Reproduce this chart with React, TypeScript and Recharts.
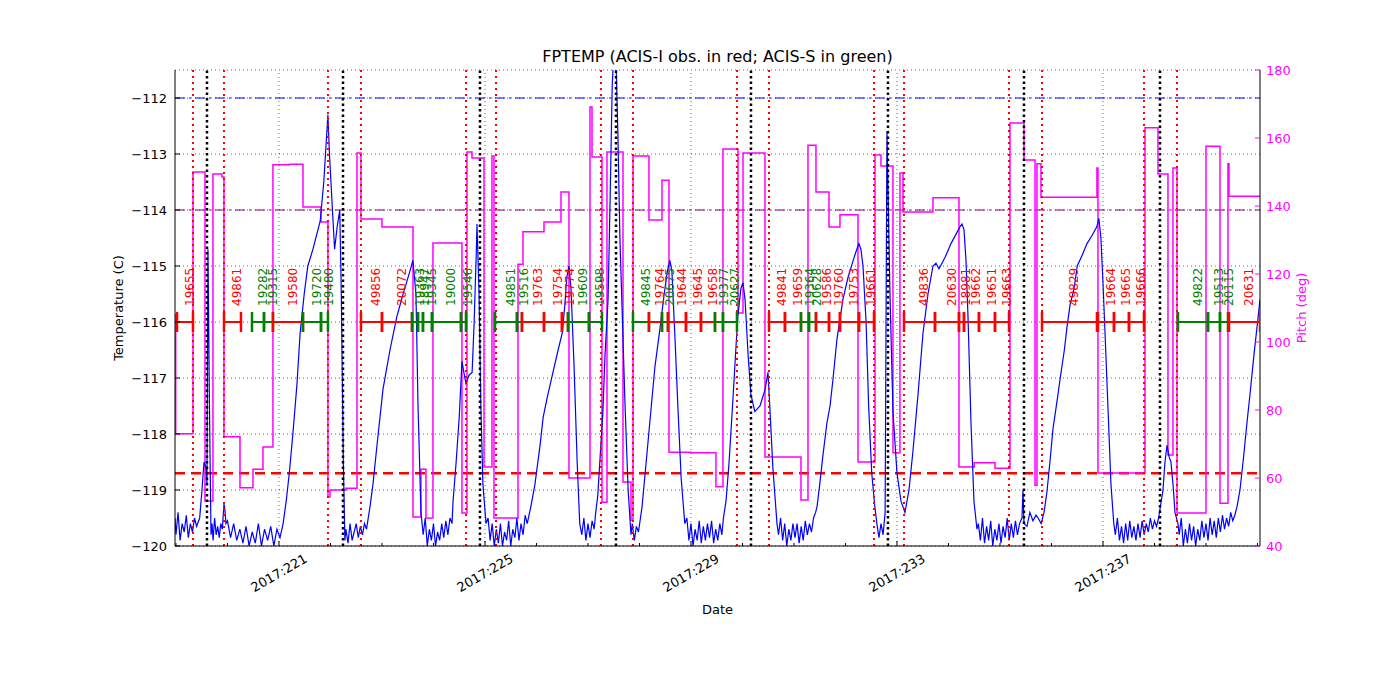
import React from "react";
import { LineChart, Line, XAxis, YAxis, CartesianGrid, ReferenceLine } from "recharts";

const FONT = "'DejaVu Sans', sans-serif";

// x is day-of-year 2017 (fractional)
const X_DOMAIN = [218.981, 240.049];
const DAY_TICKS = [219, 220, 221, 222, 223, 224, 225, 226, 227, 228, 229, 230, 231, 232, 233, 234, 235, 236, 237, 238, 239, 240];
const MAJOR_DAYS = [221, 225, 229, 233, 237];
const TEMP_TICKS = [-120, -119, -118, -117, -116, -115, -114, -113, -112];
const PITCH_TICKS = [40, 60, 80, 100, 120, 140, 160, 180];

const PLANNING_LIMIT = -112.0;
const YELLOW_LIMIT = -114.0;
const ACIS_I_LIMIT = -118.7;
const OBS_LEVEL = -116.0;

// perigee-ish markers
const RED_LINES = [219.33, 219.932, 221.951, 222.592, 224.631, 225.214, 227.252, 227.874, 229.893, 230.515, 232.553, 233.136, 235.175, 235.816, 237.796, 238.437];
const BLACK_LINES = [219.602, 222.243, 224.903, 227.544, 230.165, 232.825, 235.466, 238.107];

// FPTEMP [day, degC]
const TEMP: [number, number][] = [
  [218.981, -119.5], [219.0, -119.8], [219.04, -119.4], [219.08, -119.9], [219.12, -119.6], [219.16, -119.75], [219.2, -119.45], [219.24, -119.85], [219.28, -119.6], [219.32, -119.75], [219.36, -119.5], [219.4, -119.65], [219.46, -119.5],
  [219.505, -119.0], [219.544, -118.5], [219.583, -118.6], [219.602, -118.9], [219.621, -114.7], [219.65, -117.5], [219.68, -119.8],
  [219.7, -119.6], [219.72, -119.9], [219.75, -119.5], [219.78, -119.8], [219.81, -119.65], [219.84, -119.85], [219.87, -119.6], [219.9, -119.7], [219.932, -119.25], [219.95, -119.35], [219.97, -119.6],
  [220.0, -119.55], [220.06, -119.85], [220.12, -119.6], [220.18, -119.9], [220.24, -119.7], [220.3, -119.95], [220.36, -119.65], [220.42, -120.0], [220.48, -119.75], [220.54, -119.95], [220.6, -119.6], [220.66, -120.0], [220.72, -119.7], [220.78, -119.9], [220.84, -119.65], [220.9, -120.0], [220.96, -119.7], [221.02, -119.85],
  [221.08, -119.6], [221.14, -119.2], [221.2, -118.7], [221.27, -118.0], [221.35, -117.1], [221.41, -116.2], [221.49, -115.5], [221.56, -115.0], [221.66, -114.7], [221.8, -114.2], [221.87, -113.5], [221.93, -112.6], [221.95, -112.3], [221.98, -113.0], [222.05, -114.2], [222.08, -114.7], [222.13, -114.3], [222.18, -114.0], [222.21, -115.5], [222.25, -118.5], [222.28, -119.9],
  [222.3, -119.7], [222.34, -119.95], [222.38, -119.6], [222.42, -119.9], [222.46, -119.75], [222.5, -119.6], [222.54, -119.85], [222.58, -119.65], [222.62, -119.8], [222.66, -119.6], [222.7, -119.7],
  [222.767, -119.3], [222.825, -118.9], [222.903, -118.2], [223.02, -117.2], [223.155, -116.5], [223.29, -115.9], [223.41, -115.5], [223.54, -115.1], [223.6, -114.9], [223.66, -115.5], [223.7, -117.5], [223.757, -119.4],
  [223.8, -119.8], [223.84, -119.5], [223.88, -120.0], [223.92, -119.7], [223.96, -119.9], [224.0, -119.6], [224.04, -120.0], [224.08, -119.75], [224.12, -119.9], [224.16, -119.6], [224.2, -119.85], [224.24, -119.55], [224.28, -119.8], [224.32, -119.5], [224.36, -119.6],
  [224.38, -119.2], [224.44, -118.5], [224.5, -117.7], [224.553, -116.7], [224.59, -116.9], [224.63, -117.1], [224.69, -116.95], [224.75, -116.9], [224.79, -116.0], [224.83, -114.8], [224.845, -114.25], [224.885, -115.5], [224.92, -117.5], [224.96, -118.9], [225.02, -119.6],
  [225.06, -119.5], [225.1, -119.9], [225.14, -119.6], [225.18, -120.0], [225.22, -119.7], [225.26, -119.95], [225.3, -119.6], [225.34, -120.0], [225.38, -119.75], [225.42, -119.9], [225.46, -119.55], [225.5, -120.0], [225.54, -119.7], [225.58, -119.85], [225.62, -119.5], [225.66, -119.9], [225.7, -119.6], [225.74, -119.8], [225.78, -119.45], [225.82, -119.6],
  [225.89, -119.3], [225.97, -118.9], [226.07, -118.2], [226.13, -117.7], [226.22, -117.3], [226.32, -116.9], [226.42, -116.5], [226.5, -116.2], [226.55, -115.7], [226.59, -115.2], [226.63, -115.0], [226.67, -115.4], [226.73, -116.8], [226.79, -118.5], [226.84, -119.6],
  [226.88, -119.8], [226.92, -119.5], [226.96, -119.9], [227.0, -119.6], [227.04, -119.85], [227.08, -119.55], [227.12, -119.7], [227.15, -119.4],
  [227.19, -119.1], [227.23, -118.5], [227.29, -117.6], [227.33, -116.6], [227.39, -115.6], [227.43, -113.8], [227.47, -111.8], [227.505, -111.1], [227.54, -111.2], [227.58, -112.6], [227.62, -114.5], [227.66, -115.7], [227.72, -117.5], [227.78, -119.0], [227.835, -119.8],
  [227.86, -119.6], [227.9, -119.9], [227.94, -119.65], [227.98, -119.75],
  [228.05, -119.3], [228.13, -118.5], [228.2, -117.8], [228.3, -116.8], [228.4, -116.1], [228.48, -115.5], [228.54, -115.1], [228.59, -114.9], [228.63, -115.1], [228.69, -116.3], [228.75, -117.6], [228.81, -118.8], [228.88, -119.6],
  [228.92, -119.5], [228.96, -119.9], [229.0, -119.6], [229.04, -120.0], [229.08, -119.7], [229.12, -119.9], [229.16, -119.55], [229.2, -119.95], [229.24, -119.65], [229.28, -119.9], [229.32, -119.6], [229.36, -119.85], [229.4, -119.55], [229.44, -119.95], [229.48, -119.7], [229.52, -119.9], [229.56, -119.6], [229.6, -119.8], [229.63, -119.5],
  [229.68, -119.2], [229.74, -118.5], [229.82, -117.3], [229.87, -116.5], [229.91, -115.9], [229.97, -115.4], [230.01, -115.3], [230.05, -115.6], [230.11, -116.6], [230.165, -117.3], [230.24, -117.6], [230.34, -117.5], [230.44, -117.2], [230.495, -116.9], [230.53, -117.5], [230.59, -118.6], [230.67, -119.6],
  [230.7, -119.8], [230.74, -119.5], [230.78, -119.9], [230.82, -119.6], [230.86, -120.0], [230.9, -119.7], [230.94, -119.9], [230.98, -119.6], [231.02, -119.85], [231.06, -119.6], [231.1, -119.95], [231.14, -119.65], [231.18, -119.9], [231.22, -119.55], [231.26, -119.8], [231.3, -119.6], [231.34, -119.75], [231.38, -119.5], [231.42, -119.4],
  [231.447, -119.3], [231.5, -118.9], [231.56, -118.4], [231.64, -117.8], [231.7, -117.5], [231.76, -117.0], [231.835, -116.3], [231.95, -115.6], [232.05, -115.2], [232.15, -114.9], [232.22, -114.7], [232.26, -114.6], [232.3, -114.7], [232.34, -115.0], [232.4, -116.0], [232.45, -117.5], [232.51, -118.7], [232.57, -119.3], [232.61, -119.6], [232.65, -119.85], [232.69, -119.6], [232.73, -119.8], [232.77, -119.4],
  [232.79, -115.5], [232.806, -112.6], [232.825, -113.6], [232.864, -115.5], [232.922, -117.6], [233.0, -118.7], [233.078, -119.2], [233.155, -119.4], [233.233, -119.0], [233.311, -118.3], [233.408, -117.3], [233.505, -116.2], [233.602, -115.5], [233.699, -115.0], [233.757, -114.95], [233.816, -115.05], [233.932, -114.85], [234.049, -114.6], [234.165, -114.4], [234.223, -114.3], [234.262, -114.25], [234.301, -114.35], [234.34, -114.9], [234.379, -115.9], [234.437, -117.8], [234.495, -119.2], [234.553, -119.7],
  [234.58, -119.6], [234.62, -119.9], [234.66, -119.5], [234.7, -119.95], [234.74, -119.65], [234.78, -119.9], [234.82, -119.55], [234.86, -120.0], [234.9, -119.7], [234.94, -119.9], [234.98, -119.6], [235.02, -119.95], [235.06, -119.65], [235.1, -119.85], [235.14, -119.5], [235.18, -119.9], [235.22, -119.6], [235.26, -119.85], [235.3, -119.55], [235.34, -119.8], [235.38, -119.6],
  [235.427, -119.5], [235.447, -119.0], [235.466, -119.6], [235.524, -119.65], [235.58, -119.4], [235.64, -119.55], [235.7, -119.45], [235.74, -119.5], [235.8, -119.6], [235.855, -119.4], [235.91, -119.05], [235.97, -118.5], [236.03, -117.9], [236.11, -117.4], [236.17, -117.0], [236.25, -116.5], [236.3, -116.1], [236.36, -115.7], [236.44, -115.4], [236.5, -115.0], [236.6, -114.8], [236.69, -114.6], [236.79, -114.45], [236.88, -114.3], [236.92, -114.15], [236.96, -114.5], [237.0, -115.3], [237.04, -116.2], [237.1, -117.6], [237.155, -118.9], [237.21, -119.6],
  [237.24, -119.8], [237.28, -119.5], [237.32, -119.9], [237.36, -119.65], [237.4, -119.95], [237.44, -119.6], [237.48, -119.9], [237.52, -119.55], [237.56, -119.85], [237.6, -119.65], [237.64, -119.9], [237.68, -119.6], [237.72, -119.85], [237.76, -119.55], [237.8, -119.8], [237.84, -119.6], [237.88, -119.75], [237.92, -119.5], [237.96, -119.7], [238.0, -119.55], [238.04, -119.65], [238.08, -119.5],
  [238.165, -119.0], [238.204, -118.5], [238.243, -118.2], [238.282, -118.4], [238.32, -118.5], [238.36, -118.9], [238.398, -119.4], [238.456, -119.6],
  [238.48, -119.8], [238.52, -119.5], [238.56, -120.0], [238.6, -119.7], [238.64, -119.95], [238.68, -119.6], [238.72, -119.9], [238.76, -119.65], [238.8, -120.0], [238.84, -119.7], [238.88, -119.9], [238.92, -119.55], [238.96, -119.85], [239.0, -119.6], [239.04, -119.9], [239.08, -119.5], [239.12, -119.8], [239.16, -119.55], [239.2, -119.85], [239.24, -119.5], [239.28, -119.75], [239.32, -119.45], [239.36, -119.7], [239.4, -119.5], [239.44, -119.65], [239.48, -119.4], [239.52, -119.55], [239.56, -119.45],
  [239.602, -119.3], [239.66, -119.0], [239.72, -118.5], [239.796, -117.8], [239.854, -117.3], [239.93, -116.6], [239.99, -116.1], [240.049, -115.6],
];

// pitch [day, deg], held until next point
const PITCH: [number, number][] = [
  [218.981, 108], [218.995, 73.0], [219.33, 150.0], [219.563, 53.2], [219.718, 149.4], [219.893, 148.5], [219.932, 72.1],
  [220.243, 57.1], [220.495, 62.6], [220.689, 69.1], [220.883, 152.1], [221.2, 152.3], [221.466, 139.7], [221.816, 135.3],
  [221.951, 54.4], [221.99, 56.5], [222.3, 57.0], [222.515, 155.6], [222.592, 136.2], [223.0, 133.8], [223.602, 48.5],
  [223.757, 62.6], [223.854, 48.2], [223.99, 129.1], [224.553, 49.7], [224.65, 155.9], [224.748, 154.1], [224.981, 63.2],
  [225.136, 154.7], [225.175, 48.2], [225.641, 122.9], [225.738, 132.4], [226.146, 135.3], [226.476, 144.1], [226.631, 60.0],
  [227.039, 169.1], [227.078, 154.4], [227.272, 52.9], [227.369, 155.9], [227.68, 58.8], [227.835, 47.6], [227.874, 154.7],
  [228.184, 135.9], [228.437, 147.6], [228.573, 67.6], [229.0, 67.4], [229.485, 57.4], [229.621, 156.8], [229.913, 108.5],
  [230.01, 155.6], [230.437, 66.2], [231.136, 53.5], [231.272, 157.9], [231.427, 144.1], [231.68, 133.8], [231.893, 137.4],
  [232.243, 64.7], [232.573, 155.0], [232.689, 151.8], [232.922, 67.4], [233.058, 149.7], [233.117, 138.2], [233.699, 142.4],
  [234.204, 63.2], [234.5, 64.5], [234.903, 62.9], [235.194, 164.4], [235.466, 153.5], [235.68, 57.9], [235.718, 152.4],
  [235.796, 142.6], [236.883, 151.2], [236.903, 61.5], [237.816, 163.0], [238.068, 149.4], [238.262, 66.8], [238.359, 151.2],
  [238.437, 49.7], [239.0, 157.6], [239.272, 52.6], [239.427, 152.4], [239.447, 142.9], [240.049, 142.9],
];

// observations: [start, stop, obsid, instrument]
const OBS: [number, number, string, string][] = [
  [219.02, 219.33, "19655", "I"], [219.932, 220.262, "49861", "I"], [220.476, 220.709, "19282", "S"], [220.709, 220.883, "19315", "S"],
  [220.883, 221.466, "19580", "I"], [221.466, 221.816, "19720", "S"], [221.816, 221.951, "19480", "S"],
  [222.592, 223.0, "49856", "I"], [223.0, 223.583, "20072", "I"], [223.583, 223.699, "19363", "S"], [223.699, 223.796, "18947", "S"],
  [223.796, 223.971, "19345", "S"], [223.971, 224.534, "19000", "S"], [224.534, 224.631, "19546", "S"],
  [225.194, 225.621, "49851", "S"], [225.621, 225.718, "19516", "S"], [225.718, 226.146, "19763", "I"], [226.146, 226.495, "19754", "I"],
  [226.495, 226.612, "19774", "I"], [226.612, 227.019, "19609", "S"], [227.019, 227.272, "19598", "S"],
  [227.874, 228.184, "49845", "S"], [228.184, 228.437, "19764", "I"], [228.437, 228.553, "20675", "S"], [228.553, 228.903, "19644", "I"],
  [228.903, 229.194, "19645", "I"], [229.194, 229.466, "19658", "I"], [229.466, 229.621, "19377", "S"], [229.621, 229.893, "20627", "S"],
  [230.515, 230.825, "49841", "I"], [230.825, 231.136, "19659", "I"], [231.136, 231.291, "19364", "S"], [231.291, 231.427, "20628", "S"],
  [231.427, 231.68, "19586", "I"], [231.68, 231.893, "19760", "I"], [231.893, 232.262, "19753", "I"], [232.262, 232.553, "19661", "I"],
  [233.136, 233.738, "49836", "I"], [233.738, 234.204, "20630", "I"], [234.204, 234.301, "18981", "I"], [234.301, 234.592, "19662", "I"],
  [234.592, 234.903, "19651", "I"], [234.903, 235.175, "19663", "I"],
  [235.816, 236.883, "49829", "I"], [236.903, 237.214, "19664", "I"], [237.214, 237.505, "19665", "I"], [237.505, 237.796, "19666", "I"],
  [238.456, 239.039, "49822", "S"], [239.039, 239.272, "19513", "S"], [239.272, 239.427, "20115", "S"], [239.447, 240.049, "20631", "I"],
];

const RED = "#ff0000";
const GREEN = "#008000";
const MAGENTA = "#ff00ff";

const tempData = TEMP.map(([t, v]) => ({ t, v }));
const pitchData = PITCH.map(([t, v]) => ({ t, v }));

function BottomTick(props: any) {
  const { x, y, payload } = props;
  const major = MAJOR_DAYS.includes(payload.value);
  return (
    <g>
      <line x1={x} x2={x} y1={y} y2={y - (major ? 5 : 3)} stroke="#000" />
      {major && (
        <text transform={`translate(${x},${y + 27}) rotate(-30)`} textAnchor="middle" dominantBaseline="central"
          fontSize={13} fontFamily={FONT} fill="#000">{`2017:${payload.value}`}</text>
      )}
    </g>
  );
}

function TopTick(props: any) {
  const { x, y, payload } = props;
  const major = MAJOR_DAYS.includes(payload.value);
  return <line x1={x} x2={x} y1={y} y2={y + (major ? 5 : 3)} stroke="#000" />;
}

function LeftTick(props: any) {
  const { x, y, payload } = props;
  return (
    <g>
      <line x1={x} x2={x + 5} y1={y} y2={y} stroke="#000" />
      <text x={x - 8} y={y} textAnchor="end" dominantBaseline="central" fontSize={13} fontFamily={FONT} fill="#000">
        {`\u2212${Math.abs(payload.value)}`}
      </text>
    </g>
  );
}

function RightTick(props: any) {
  const { x, y, payload } = props;
  return (
    <g>
      <line x1={x} x2={x - 5} y1={y} y2={y} stroke={MAGENTA} />
      <text x={x + 6} y={y} textAnchor="start" dominantBaseline="central" fontSize={13} fontFamily={FONT} fill={MAGENTA}>
        {payload.value}
      </text>
    </g>
  );
}

function ObsMark(props: any) {
  const { cx, cy, payload, color, id } = props;
  if (cx == null || cy == null) return <g />;
  if (payload.kind === "label") {
    return (
      <text transform={`translate(${cx + 5},${cy - 16}) rotate(-90)`} textAnchor="start" dominantBaseline="central"
        fontSize={12} fontFamily={FONT} fill={color}>{id}</text>
    );
  }
  return <line x1={cx} x2={cx} y1={cy - 10} y2={cy + 10} stroke={color} strokeWidth={2.5} />;
}

export default function App() {
  return (
    <div style={{ position: "absolute", left: 0, top: 0, width: 1400, height: 700, background: "#fff", fontFamily: FONT }}>
      <LineChart width={1400} height={700} margin={{ top: 70, right: 80, bottom: 94, left: 115 }}>
        <CartesianGrid vertical={false} yAxisId="left" stroke="#444" strokeWidth={0.8} strokeDasharray="1 3" />
        <XAxis dataKey="t" type="number" domain={X_DOMAIN} ticks={DAY_TICKS} interval={0} allowDataOverflow
          height={60} tickSize={0} tickMargin={0} tickLine={false} axisLine={{ stroke: "#000" }} tick={<BottomTick />} />
        <XAxis xAxisId="top" orientation="top" dataKey="t" type="number" domain={X_DOMAIN} ticks={DAY_TICKS} interval={0}
          allowDataOverflow height={0} tickSize={0} tickMargin={0} tickLine={false} axisLine={{ stroke: "#000" }} tick={<TopTick />} />
        <YAxis yAxisId="left" type="number" domain={[-120, -111.5]} ticks={TEMP_TICKS} interval={0} allowDataOverflow
          width={60} tickSize={0} tickMargin={0} tickLine={false} axisLine={{ stroke: "#000" }} tick={<LeftTick />} />
        <YAxis yAxisId="right" orientation="right" type="number" domain={[40, 180]} ticks={PITCH_TICKS} interval={0}
          allowDataOverflow width={60} tickSize={0} tickMargin={0} tickLine={false} axisLine={{ stroke: "#000" }} tick={<RightTick />} />

        {MAJOR_DAYS.map((d) => (
          <ReferenceLine key={`g${d}`} x={d} yAxisId="left" stroke="#444" strokeWidth={0.8} strokeDasharray="1 3" />
        ))}
        <ReferenceLine y={PLANNING_LIMIT} yAxisId="left" stroke="#0000ff" strokeWidth={1} strokeDasharray="10 4 2 4" />
        <ReferenceLine y={YELLOW_LIMIT} yAxisId="left" stroke="#800080" strokeWidth={1} strokeDasharray="10 4 2 4" />
        <ReferenceLine y={ACIS_I_LIMIT} yAxisId="left" stroke={RED} strokeWidth={2.5} strokeDasharray="10 6" />

        <Line data={pitchData} dataKey="v" yAxisId="right" type="stepAfter" stroke={MAGENTA} strokeWidth={1.5}
          dot={false} isAnimationActive={false} />
        <Line data={tempData} dataKey="v" yAxisId="left" type="linear" stroke="#0000ff" strokeWidth={1.2}
          dot={false} isAnimationActive={false} />

        {RED_LINES.map((d) => (
          <ReferenceLine key={`r${d}`} x={d} yAxisId="left" stroke={RED} strokeWidth={2} strokeDasharray="2 4" />
        ))}
        {BLACK_LINES.map((d) => (
          <ReferenceLine key={`b${d}`} x={d} yAxisId="left" stroke="#000" strokeWidth={2.5} strokeDasharray="2.5 3" />
        ))}

        {OBS.map(([start, stop, id, instr]) => {
          const color = instr === "I" ? RED : GREEN;
          const pts = [
            { t: start, v: OBS_LEVEL, kind: "tick" },
            { t: (start + stop) / 2, v: OBS_LEVEL, kind: "label" },
            { t: stop, v: OBS_LEVEL, kind: "tick" },
          ];
          return (
            <Line key={id + start} data={pts} dataKey="v" yAxisId="left" type="linear" stroke={color} strokeWidth={2}
              isAnimationActive={false}
              dot={(p: any) => <ObsMark key={`${id}-${p.index}`} cx={p.cx} cy={p.cy} payload={p.payload} color={color} id={id} />} />
          );
        })}
      </LineChart>

      <div style={{ position: "absolute", left: 0, width: 1435, top: 47, lineHeight: "20px", textAlign: "center", fontSize: 16, color: "#000" }}>
        FPTEMP (ACIS-I obs. in red; ACIS-S in green)
      </div>
      <div style={{ position: "absolute", left: 0, width: 1435, top: 600, lineHeight: "20px", textAlign: "center", fontSize: 13, color: "#000" }}>
        Date
      </div>
      <div style={{ position: "absolute", left: 19, width: 200, top: 298, lineHeight: "20px", textAlign: "center", fontSize: 13, color: "#000", transform: "rotate(-90deg)" }}>
        Temperature (C)
      </div>
      <div style={{ position: "absolute", left: 1202, width: 200, top: 298, lineHeight: "20px", textAlign: "center", fontSize: 13, color: MAGENTA, transform: "rotate(-90deg)" }}>
        Pitch (deg)
      </div>
    </div>
  );
}
